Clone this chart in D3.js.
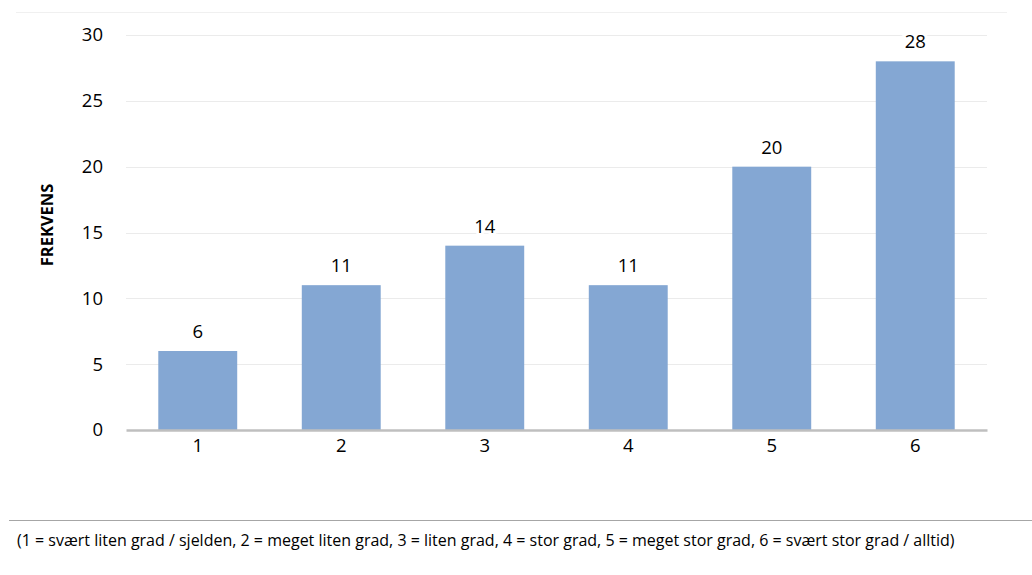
<!DOCTYPE html>
<html>
<head>
<meta charset="utf-8">
<script src="https://cdn.jsdelivr.net/npm/d3@7"></script>
<style>
  body { margin: 0; background: #fff; }
  svg { display: block; font-family: "Open Sans", "Liberation Sans", sans-serif; }
</style>
</head>
<body>
<svg id="chart" width="1032" height="575"></svg>
<script>
var categories = ["1", "2", "3", "4", "5", "6"];
var values = [6, 11, 14, 11, 20, 28];
var yTicks = [0, 5, 10, 15, 20, 25, 30];
var yTitle = "FREKVENS";
var footnote = "(1 = svært liten grad / sjelden, 2 = meget liten grad, 3 = liten grad, 4 = stor grad, 5 = meget stor grad, 6 = svært stor grad / alltid)";

var svg = d3.select("#chart");

var x = d3.scaleBand().domain(categories).range([126, 987]).paddingInner(0.45).paddingOuter(0.225),
    y = d3.scaleLinear().domain([0, 30]).range([430, 35]);

// faint frame line at the top
svg.append("line")
    .attr("x1", 16).attr("x2", 1007).attr("y1", 12.5).attr("y2", 12.5)
    .attr("stroke", "#f0f0f0").attr("stroke-width", 1);

// gridlines
svg.append("g")
    .selectAll("line")
    .data(yTicks.filter(function (d) { return d > 0; }))
    .enter()
    .append("line")
    .attr("x1", 126).attr("x2", 987)
    .attr("y1", function (d) { return Math.round(y(d)) + 0.5; })
    .attr("y2", function (d) { return Math.round(y(d)) + 0.5; })
    .attr("stroke", "#ebebeb").attr("stroke-width", 1);

// y axis labels
var yAxis = svg.append("g")
    .attr("transform", "translate(126,0)")
    .call(d3.axisLeft(y).tickValues(yTicks).tickSize(0).tickPadding(23));
yAxis.select(".domain").remove();
yAxis.selectAll("text").attr("font-size", 18.5).attr("fill", "#000")
    .attr("font-family", "'Open Sans', sans-serif");

// bars
svg.append("g")
    .selectAll("rect")
    .data(values)
    .enter()
    .append("rect")
    .attr("x", function (d, i) { return x(categories[i]); })
    .attr("y", function (d) { return y(d); })
    .attr("width", x.bandwidth())
    .attr("height", function (d) { return y(0) - y(d); })
    .attr("fill", "#84a7d3");

// value labels (white halo cuts the gridline like the original)
svg.append("g")
    .selectAll("text")
    .data(values)
    .enter()
    .append("text")
    .attr("x", function (d, i) { return x(categories[i]) + x.bandwidth() / 2; })
    .attr("y", function (d) { return y(d) - 13; })
    .attr("text-anchor", "middle")
    .attr("font-size", 18.5)
    .attr("fill", "#000")
    .attr("stroke", "#fff").attr("stroke-width", 6)
    .attr("paint-order", "stroke")
    .text(function (d) { return d; });

// x axis
var xAxis = svg.append("g")
    .attr("transform", "translate(0,430)")
    .call(d3.axisBottom(x).tickSize(0).tickPadding(9));
xAxis.select(".domain").attr("stroke", "#bfbfbf").attr("stroke-width", 2.5);
xAxis.selectAll("text").attr("font-size", 18.5).attr("fill", "#000")
    .attr("font-family", "'Open Sans', sans-serif");

// y title
svg.append("text")
    .attr("transform", "translate(53,225) rotate(-90)")
    .attr("text-anchor", "middle")
    .attr("font-size", 16.5)
    .attr("font-weight", "bold")
    .attr("fill", "#000")
    .text(yTitle);

// footnote rule and text
svg.append("line")
    .attr("x1", 9).attr("x2", 1032).attr("y1", 520.5).attr("y2", 520.5)
    .attr("stroke", "#a6a6a6").attr("stroke-width", 1);

svg.append("text")
    .attr("x", 17).attr("y", 546)
    .attr("font-size", 16)
    .attr("fill", "#000")
    .text(footnote);
</script>
</body>
</html>
